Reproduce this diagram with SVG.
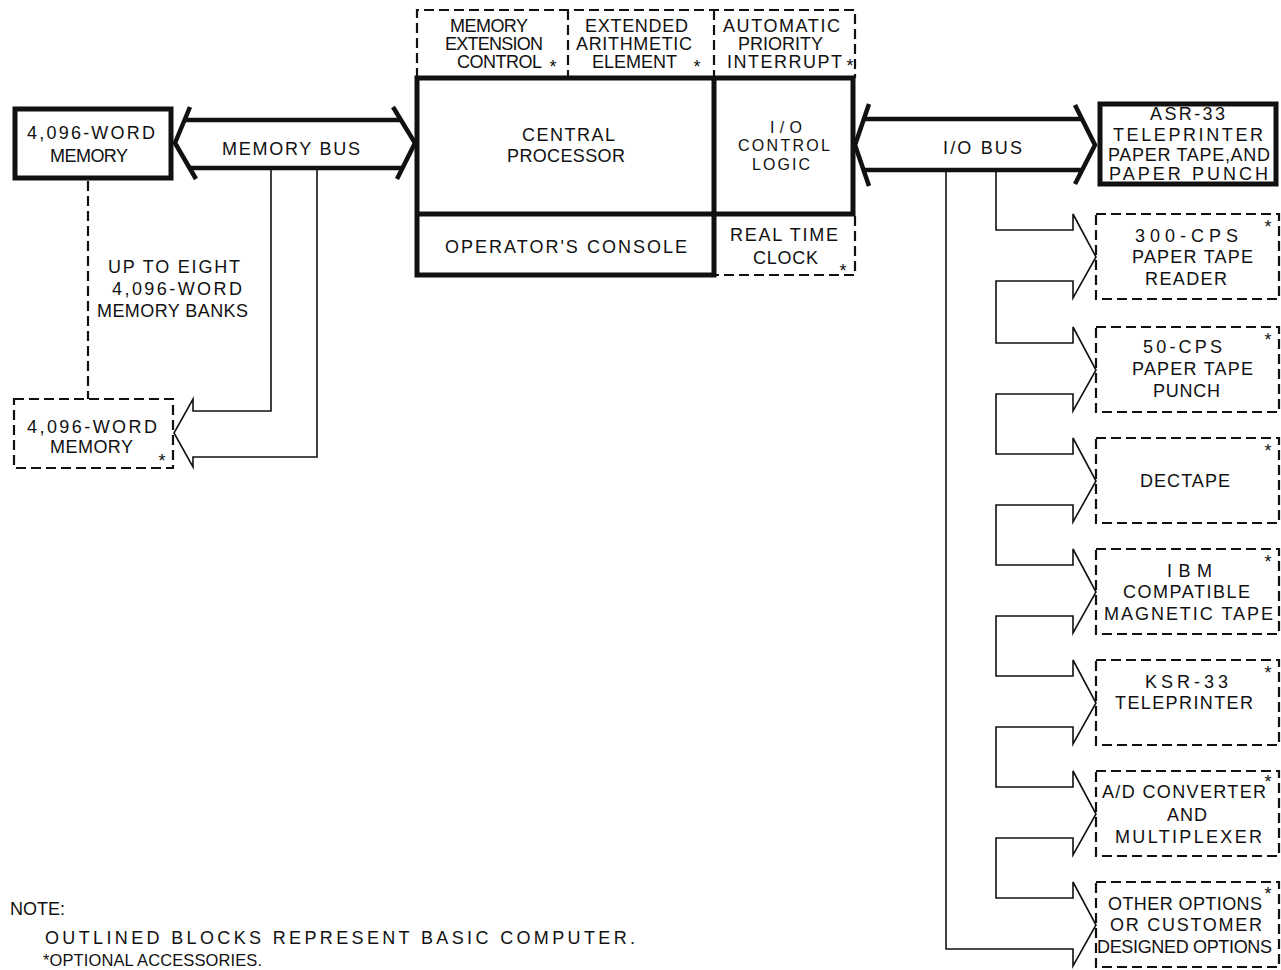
<svg xmlns="http://www.w3.org/2000/svg" width="1281" height="970" viewBox="0 0 1281 970">
<style>
.t{font-family:"Liberation Sans",Arial,sans-serif;font-size:18px;fill:#111}
.s{font-size:16px}
.n{font-size:16.5px}
.a{font-family:"Liberation Sans",Arial,sans-serif;font-size:18px;fill:#111;text-anchor:middle}
.thick{fill:none;stroke:#111;stroke-width:5;stroke-linejoin:miter}
.bus{fill:none;stroke:#111;stroke-width:4.5;stroke-linecap:butt}
.thin{fill:none;stroke:#111;stroke-width:1.6;stroke-linejoin:miter}
.dash{fill:none;stroke:#111;stroke-width:2.2;stroke-dasharray:10 5}
</style>
<rect width="1281" height="970" fill="#fff"/>

<g id="connectors">
  <g id="memory-bus">
    <path class="bus" d="M190,107 L175,143 L196,179"/>
    <path class="bus" d="M393,107 L415,143 L397,179"/>
    <path class="bus" d="M185,120 H402 M189,168 H403"/>
    <text class="t" x="222" y="155" textLength="138" lengthAdjust="spacing">MEMORY BUS</text>
  </g>
  <g id="memory-branch">
    <path class="thin" d="M271,170 V411 H193 V399 L174,433 L193,467 V457 H317 V170"/>
  </g>
  <path id="memory-bank-link" class="dash" d="M88,181 V399"/>
  <g id="io-bus">
    <path class="bus" d="M869,104 L855,145 L869,186"/>
    <path class="bus" d="M1075,105 L1095,145 L1075,184"/>
    <path class="bus" d="M864,119 H1082 M864,170 H1082"/>
    <text class="t" x="943" y="154" textLength="79" lengthAdjust="spacing">I/O BUS</text>
  </g>
  <g id="io-chain">
    <path class="thin" d="M996,171 V230 H1073 V214 L1096,257 L1073,298 V281 H996 V343 H1073 V327 L1096,370 L1073,411 V394 H996 V454 H1073 V438 L1096,481 L1073,522 V505 H996 V565 H1073 V549 L1096,592 L1073,633 V616 H996 V676 H1073 V660 L1096,703 L1073,744 V727 H996 V787 H1073 V771 L1096,814 L1073,855 V838 H996 V898 H1073 V882 L1096,925 L1073,966 V949 H946 V171"/>
  </g>
</g>

<g id="memory">
  <rect class="thick" x="15" y="109" width="156" height="69"/>
  <text class="t" x="27" y="139" textLength="128" lengthAdjust="spacing">4,096-WORD</text>
  <text class="t" x="50" y="162" textLength="78" lengthAdjust="spacing">MEMORY</text>
</g>

<g id="memory-banks-label">
  <text class="t" x="108" y="273" textLength="132" lengthAdjust="spacing">UP TO EIGHT</text>
  <text class="t" x="112" y="295" textLength="130" lengthAdjust="spacing">4,096-WORD</text>
  <text class="t" x="97" y="317" textLength="151" lengthAdjust="spacing">MEMORY BANKS</text>
</g>

<g id="memory-optional">
  <rect class="dash" x="14" y="399" width="159" height="69"/>
  <text class="t" x="27" y="433" textLength="130" lengthAdjust="spacing">4,096-WORD</text>
  <text class="t" x="50" y="453" textLength="83" lengthAdjust="spacing">MEMORY</text>
  <text class="a" x="162" y="467">*</text>
</g>

<g id="options-top">
  <path class="dash" d="M417,78 V10 H855 V78 M568,10 V78 M714,10 V78"/>
</g>
<g id="memory-extension-control">
  <text class="t" x="450" y="32" textLength="78" lengthAdjust="spacing">MEMORY</text>
  <text class="t" x="445" y="50" textLength="98" lengthAdjust="spacing">EXTENSION</text>
  <text class="t" x="457" y="68" textLength="85" lengthAdjust="spacing">CONTROL</text>
  <text class="a" x="553" y="73">*</text>
</g>
<g id="extended-arithmetic-element">
  <text class="t" x="585" y="32" textLength="103" lengthAdjust="spacing">EXTENDED</text>
  <text class="t" x="576" y="50" textLength="116" lengthAdjust="spacing">ARITHMETIC</text>
  <text class="t" x="592" y="68" textLength="85" lengthAdjust="spacing">ELEMENT</text>
  <text class="a" x="697" y="73">*</text>
</g>
<g id="automatic-priority-interrupt">
  <text class="t" x="723" y="32" textLength="117" lengthAdjust="spacing">AUTOMATIC</text>
  <text class="t" x="738" y="50" textLength="85" lengthAdjust="spacing">PRIORITY</text>
  <text class="t" x="727" y="68" textLength="115" lengthAdjust="spacing">INTERRUPT</text>
  <text class="a" x="850" y="72">*</text>
</g>

<g id="cpu-frame">
  <path class="thick" d="M414.5,78 H855.5 M417,75.5 V277.5 M414.5,275 H716.5 M714,75.5 V277.5 M417,214 H855.5 M853,75.5 V216.5"/>
  <path class="dash" d="M855,216 V275 H716"/>
</g>
<g id="central-processor">
  <text class="t" x="522" y="141" textLength="93" lengthAdjust="spacing">CENTRAL</text>
  <text class="t" x="507" y="162" textLength="118" lengthAdjust="spacing">PROCESSOR</text>
</g>
<g id="io-control-logic">
  <text class="t s" x="770" y="133" textLength="32" lengthAdjust="spacing">I/O</text>
  <text class="t s" x="738" y="151" textLength="92" lengthAdjust="spacing">CONTROL</text>
  <text class="t s" x="752" y="170" textLength="58" lengthAdjust="spacing">LOGIC</text>
</g>
<g id="operators-console">
  <text class="t" x="445" y="253" textLength="242" lengthAdjust="spacing">OPERATOR'S CONSOLE</text>
</g>
<g id="real-time-clock">
  <text class="t" x="730" y="241" textLength="108" lengthAdjust="spacing">REAL TIME</text>
  <text class="t" x="753" y="264" textLength="65" lengthAdjust="spacing">CLOCK</text>
  <text class="a" x="843" y="277">*</text>
</g>

<g id="asr33">
  <rect class="thick" x="1100" y="104" width="176" height="80"/>
  <text class="t" x="1150" y="120" textLength="75" lengthAdjust="spacing">ASR-33</text>
  <text class="t" x="1113" y="141" textLength="150" lengthAdjust="spacing">TELEPRINTER</text>
  <text class="t" x="1108" y="161" textLength="162" lengthAdjust="spacing">PAPER TAPE,AND</text>
  <text class="t" x="1109" y="180" textLength="159" lengthAdjust="spacing">PAPER PUNCH</text>
</g>

<g id="paper-tape-reader">
  <rect class="dash" x="1096" y="214" width="183" height="85"/>
  <text class="t" x="1135" y="242" textLength="103" lengthAdjust="spacing">300-CPS</text>
  <text class="t" x="1132" y="263" textLength="121" lengthAdjust="spacing">PAPER TAPE</text>
  <text class="t" x="1145" y="285" textLength="82" lengthAdjust="spacing">READER</text>
  <text class="a" x="1268" y="233">*</text>
</g>
<g id="paper-tape-punch">
  <rect class="dash" x="1096" y="327" width="183" height="85"/>
  <text class="t" x="1143" y="353" textLength="79" lengthAdjust="spacing">50-CPS</text>
  <text class="t" x="1132" y="375" textLength="121" lengthAdjust="spacing">PAPER TAPE</text>
  <text class="t" x="1153" y="397" textLength="67" lengthAdjust="spacing">PUNCH</text>
  <text class="a" x="1268" y="346">*</text>
</g>
<g id="dectape">
  <rect class="dash" x="1096" y="438" width="183" height="85"/>
  <text class="t" x="1140" y="487" textLength="90" lengthAdjust="spacing">DECTAPE</text>
  <text class="a" x="1268" y="457">*</text>
</g>
<g id="magnetic-tape">
  <rect class="dash" x="1096" y="549" width="183" height="85"/>
  <text class="t" x="1167" y="577" textLength="45" lengthAdjust="spacing">IBM</text>
  <text class="t" x="1123" y="598" textLength="127" lengthAdjust="spacing">COMPATIBLE</text>
  <text class="t" x="1104" y="620" textLength="169" lengthAdjust="spacing">MAGNETIC TAPE</text>
  <text class="a" x="1268" y="568">*</text>
</g>
<g id="ksr33">
  <rect class="dash" x="1096" y="660" width="183" height="85"/>
  <text class="t" x="1145" y="688" textLength="83" lengthAdjust="spacing">KSR-33</text>
  <text class="t" x="1115" y="709" textLength="138" lengthAdjust="spacing">TELEPRINTER</text>
  <text class="a" x="1268" y="679">*</text>
</g>
<g id="ad-converter">
  <rect class="dash" x="1096" y="771" width="183" height="85"/>
  <text class="t" x="1102" y="798" textLength="164" lengthAdjust="spacing">A/D CONVERTER</text>
  <text class="t" x="1167" y="821" textLength="40" lengthAdjust="spacing">AND</text>
  <text class="t" x="1115" y="843" textLength="147" lengthAdjust="spacing">MULTIPLEXER</text>
  <text class="a" x="1268" y="788">*</text>
</g>
<g id="other-options">
  <rect class="dash" x="1096" y="882" width="183" height="85"/>
  <text class="t" x="1108" y="910" textLength="154" lengthAdjust="spacing">OTHER OPTIONS</text>
  <text class="t" x="1110" y="931" textLength="152" lengthAdjust="spacing">OR CUSTOMER</text>
  <text class="t" x="1097" y="953" textLength="175" lengthAdjust="spacing">DESIGNED OPTIONS</text>
  <text class="a" x="1268" y="900">*</text>
</g>

<g id="note">
  <text class="t" x="10" y="915">NOTE:</text>
  <text class="t" x="45" y="944" textLength="590" lengthAdjust="spacing">OUTLINED BLOCKS REPRESENT BASIC COMPUTER.</text>
  <text class="t n" x="43" y="966" textLength="219" lengthAdjust="spacing">*OPTIONAL ACCESSORIES.</text>
</g>
</svg>
